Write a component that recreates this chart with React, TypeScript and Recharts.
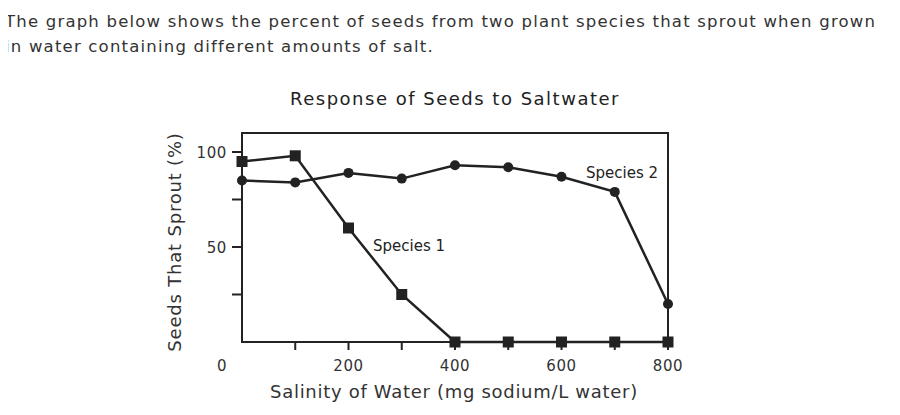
import { LineChart, Line, XAxis, YAxis, ReferenceArea } from 'recharts'

const salinity = [0, 100, 200, 300, 400, 500, 600, 700, 800]
const species1 = [95, 98, 60, 25, 0, 0, 0, 0, 0]
const species2 = [85, 84, 89, 86, 93, 92, 87, 79, 20]
const xTicks = [0, 100, 200, 300, 400, 500, 600, 700, 800]
const yTicks = [25, 50, 75, 100]
const yLabels = [50, 100]

const data = salinity.map((s, i) => ({
  salinity: s,
  species1: species1[i],
  species2: species2[i],
}))

const INK = '#222'
const FONT = '"DejaVu Sans", Verdana, sans-serif'

function XTick(props: any) {
  const { x, y, payload } = props
  const v = payload.value as number
  return (
    <g>
      {v > 0 && <line x1={x} y1={y - 8} x2={x} y2={y} stroke={INK} strokeWidth={2} />}
      {v % 200 === 0 && (
        <text
          x={v === 0 ? x - 20 : x}
          y={y + 21}
          textAnchor="middle"
          fontSize={15}
          letterSpacing={0.6}
          fill="#333"
          fontFamily={FONT}
        >
          {v}
        </text>
      )}
    </g>
  )
}

function YTick(props: any) {
  const { x, y, payload } = props
  const v = payload.value as number
  return (
    <g>
      <line x1={x} y1={y} x2={x + 10} y2={y} stroke={INK} strokeWidth={2} />
      {yLabels.includes(v) && (
        <text x={x - 5} y={y + 5.5} textAnchor="end" fontSize={15} letterSpacing={0.6} fill="#333" fontFamily={FONT}>
          {v}
        </text>
      )}
    </g>
  )
}

function SquareDot(props: any) {
  const { cx, cy } = props
  return <rect x={cx - 5.5} y={cy - 5.5} width={11} height={11} fill={INK} />
}

function CircleDot(props: any) {
  const { cx, cy } = props
  return <circle cx={cx} cy={cy} r={5} fill={INK} />
}

export default function App() {
  const txt = { position: 'absolute' as const, fontFamily: FONT, color: '#333', whiteSpace: 'nowrap' as const }
  return (
    <div style={{ position: 'relative', width: 900, height: 415, margin: -8, background: '#fff' }}>
      <div style={{ ...txt, left: 5, top: 9, fontSize: 16.5, letterSpacing: 1.2, lineHeight: '25px' }}>
        The graph below shows the percent of seeds from two plant species that sprout when grown
        <br />
        in water containing different amounts of salt.
      </div>
      <div
        style={{
          ...txt,
          left: 0,
          width: 910,
          textAlign: 'center',
          top: 88,
          fontSize: 18,
          letterSpacing: 1.5,
          color: '#222',
        }}
      >
        Response of Seeds to Saltwater
      </div>
      <div style={{ position: 'absolute', left: 0, top: 0 }}>
        <LineChart
          width={900}
          height={415}
          data={data}
          margin={{ top: 133, right: 232, bottom: 23, left: 182 }}
        >
          <XAxis
            dataKey="salinity"
            type="number"
            domain={[0, 800]}
            ticks={xTicks}
            height={50}
            axisLine={false}
            tickLine={false}
            tickSize={8}
            tickMargin={0}
            tick={<XTick />}
            interval={0}
          />
          <YAxis
            type="number"
            domain={[0, 110]}
            ticks={yTicks}
            width={60}
            axisLine={false}
            tickLine={false}
            tickSize={10}
            tickMargin={0}
            tick={<YTick />}
            interval={0}
          />
          <ReferenceArea x1={0} x2={800} y1={0} y2={110} fill="none" stroke={INK} strokeWidth={2} ifOverflow="visible" />
          <Line
            dataKey="species1"
            stroke={INK}
            strokeWidth={2.5}
            dot={<SquareDot />}
            isAnimationActive={false}
          />
          <Line
            dataKey="species2"
            stroke={INK}
            strokeWidth={2.5}
            dot={<CircleDot />}
            isAnimationActive={false}
          />
        </LineChart>
      </div>
      <div style={{ ...txt, left: 373, top: 237, fontSize: 15, color: '#222' }}>Species 1</div>
      <div style={{ ...txt, left: 586, top: 164, fontSize: 15, color: '#222' }}>Species 2</div>
      <div
        style={{
          ...txt,
          left: 174,
          top: 242,
          fontSize: 18,
          letterSpacing: 0.8,
          transform: 'translate(-50%, -50%) rotate(-90deg)',
        }}
      >
        Seeds That Sprout (%)
      </div>
      <div
        style={{
          ...txt,
          left: 0,
          width: 908,
          textAlign: 'center',
          top: 381,
          fontSize: 18,
          letterSpacing: 0.7,
        }}
      >
        Salinity of Water (mg sodium/L water)
      </div>
    </div>
  )
}
